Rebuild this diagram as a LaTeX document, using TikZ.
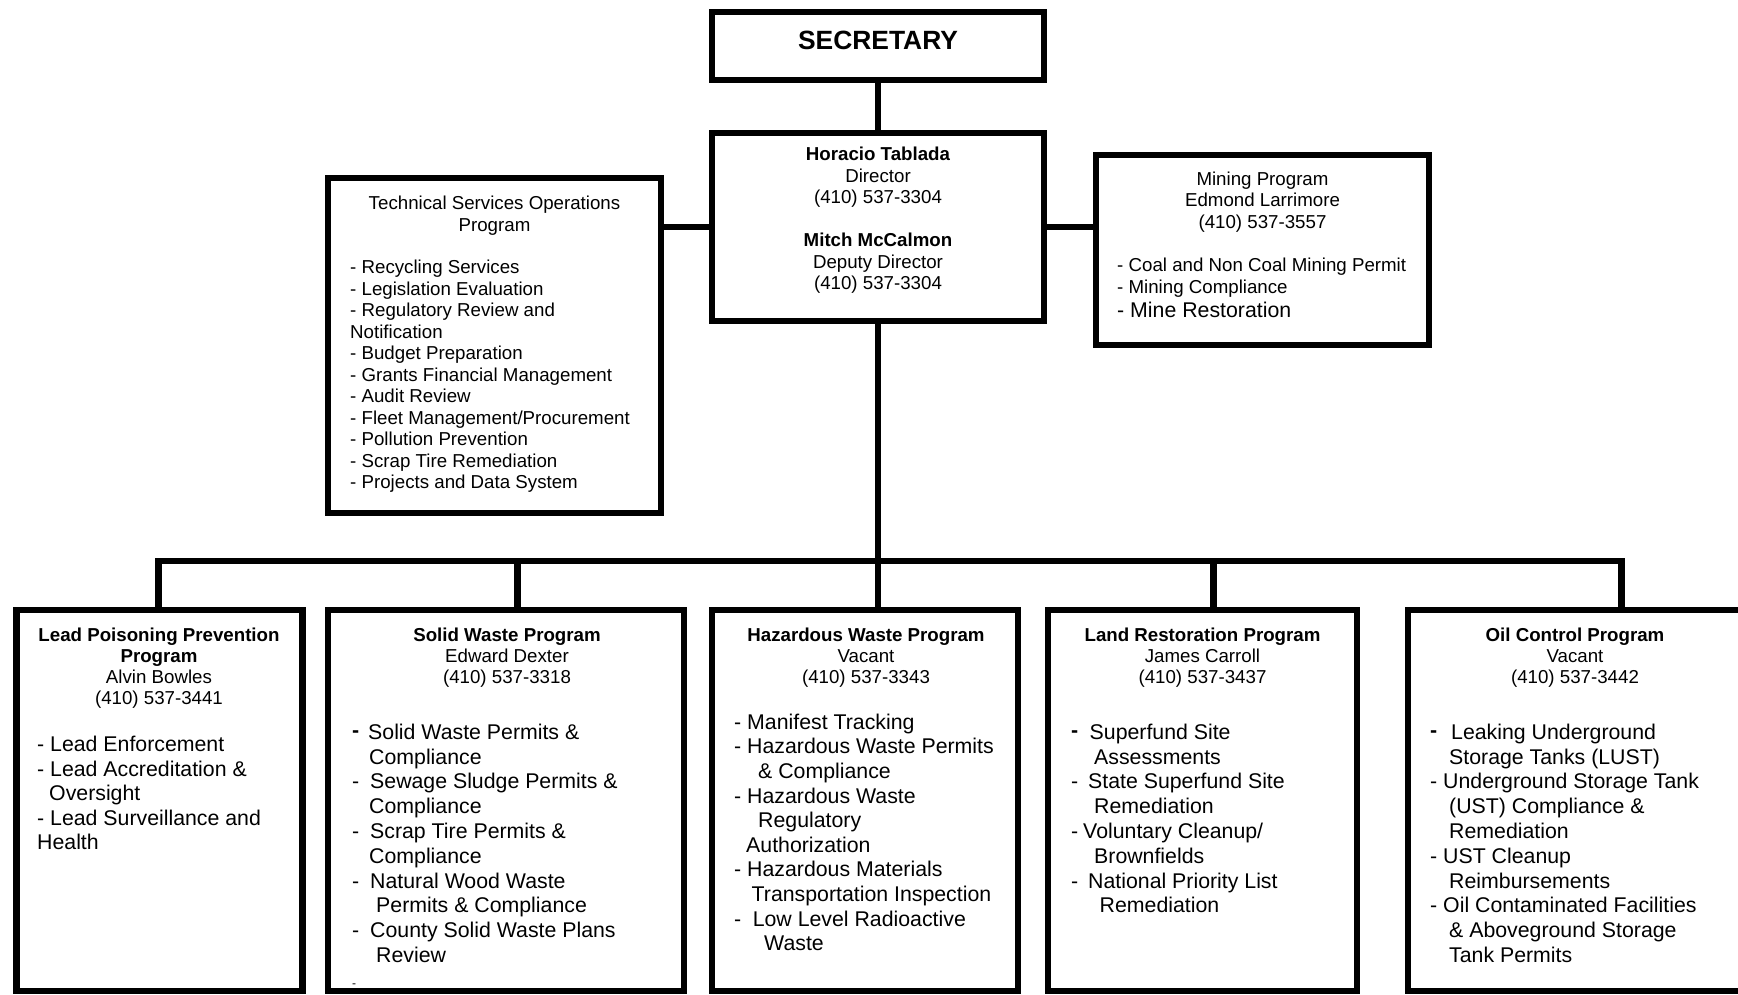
\documentclass[tikz,border=0pt]{standalone}
\usepackage{fontspec}
\setmainfont{Liberation Sans}
\newcommand\fsSmall{\fontsize{18.7}{21.5}\selectfont}
\newcommand\fsHead{\fontsize{18.7}{21}\selectfont}
\newcommand\fsBig[1]{\fontsize{21.3}{#1}\selectfont}
\newcommand\bdash{\raisebox{1.5pt}{\bfseries -}}
\newcommand\ind[1]{\hspace*{#1pt}}
\newcommand\dsh[1]{\makebox[#1pt][l]{-}}
\newcommand\bdsh[1]{\makebox[#1pt][l]{\bdash}}
\tikzset{
  box/.style={draw, line width=6.5pt, inner sep=0pt, fill=white},
  conn/.style={line width=6.5pt, line join=miter},
  txt/.style={inner sep=0pt, anchor=base west},
  ctxt/.style={inner sep=0pt, anchor=base},
}
\begin{document}
\begin{tikzpicture}[x=1pt,y=-1pt]
\useasboundingbox[fill=white] (0,0) rectangle (1738,995);

% boxes
\node[box, minimum width=332pt, minimum height=68pt]  (sec)    at (878,46) {};
\node[box, minimum width=332pt, minimum height=188pt] (dir)    at (878,227) {};
\node[box, minimum width=333pt, minimum height=335pt] (tech)   at (494.5,345.5) {};
\node[box, minimum width=333pt, minimum height=190pt] (mining) at (1262.5,250) {};
\node[box, minimum width=286pt, minimum height=381pt] (b1) at (159.5,800.5) {};
\node[box, minimum width=356pt, minimum height=381pt] (b2) at (506,800.5) {};
\node[box, minimum width=306pt, minimum height=381pt] (b3) at (865,800.5) {};
\node[box, minimum width=309pt, minimum height=381pt] (b4) at (1202.5,800.5) {};
\node[box, minimum width=337pt, minimum height=381pt] (b5) at (1576.5,800.5) {};

% connectors
\coordinate (bus) at (878,561);
\coordinate (d1) at (158.5,561);
\coordinate (d2) at (517.6,561);
\coordinate (d4) at (1213.7,561);
\coordinate (d5) at (1621.6,561);
\draw[conn] (sec.south) -- (dir.north);
\draw[conn] (dir.west) -- (dir.west -| tech.east);
\draw[conn] (dir.east) -- (dir.east -| mining.west);
\draw[conn] (dir.south) -- (bus) -- (bus |- b3.north);
\draw[conn] (d1 |- b1.north) -- (d1) -- (d5) -- (d5 |- b5.north);
\draw[conn] (d2) -- (d2 |- b2.north);
\draw[conn] (d4) -- (d4 |- b4.north);

% texts
\node[ctxt] (secT) at (878,49.5) {\fontsize{26.4}{30}\selectfont\bfseries SECRETARY};

\node[ctxt] (dirT) at (878,161) {\fsSmall\begin{tabular}[t]{@{}c@{}}
\textbf{Horacio Tablada}\\ Director\\ (410) 537-3304\\ \\
\textbf{Mitch McCalmon}\\ Deputy Director\\ (410) 537-3304\end{tabular}};

\node[ctxt] (techT) at (494.5,209.7) {\fsSmall\begin{tabular}[t]{@{}c@{}}
Technical Services Operations\\ Program\end{tabular}};
\node[txt] (techL) at (350,273.7) {\fsSmall\begin{tabular}[t]{@{}l@{}}
- Recycling Services\\
- Legislation Evaluation\\
- Regulatory Review and\\
Notification\\
- Budget Preparation\\
- Grants Financial Management\\
- Audit Review\\
- Fleet Management/Procurement\\
- Pollution Prevention\\
- Scrap Tire Remediation\\
- Projects and Data System\end{tabular}};

\node[ctxt] (minT) at (1262.5,185.2) {\fsSmall\begin{tabular}[t]{@{}c@{}}
Mining Program\\ Edmond Larrimore\\ (410) 537-3557\end{tabular}};
\node[txt] (minL) at (1117,271.7) {\fsSmall\begin{tabular}[t]{@{}l@{}}
- Coal and Non Coal Mining Permit\\
- Mining Compliance\\[2pt]
{\fsBig{24}- Mine Restoration}\end{tabular}};

% bottom headers
\node[ctxt] (h1) at (159,641.7) {\fsHead\begin{tabular}[t]{@{}c@{}}
\textbf{Lead Poisoning Prevention}\\ \textbf{Program}\\ Alvin Bowles\\ (410) 537-3441\end{tabular}};
\node[ctxt] (h2) at (507,641.7) {\fsHead\begin{tabular}[t]{@{}c@{}}
\textbf{Solid Waste Program}\\ Edward Dexter\\ (410) 537-3318\end{tabular}};
\node[ctxt] (h3) at (866,641.7) {\fsHead\begin{tabular}[t]{@{}c@{}}
\textbf{Hazardous Waste Program}\\ Vacant\\ (410) 537-3343\end{tabular}};
\node[ctxt] (h4) at (1202.5,641.7) {\fsHead\begin{tabular}[t]{@{}c@{}}
\textbf{Land Restoration Program}\\ James Carroll\\ (410) 537-3437\end{tabular}};
\node[ctxt] (h5) at (1575,641.7) {\fsHead\begin{tabular}[t]{@{}c@{}}
\textbf{Oil Control Program}\\ Vacant\\ (410) 537-3442\end{tabular}};

% bottom lists
\node[txt] (l1) at (37,751.7) {\fsBig{24.5}\begin{tabular}[t]{@{}l@{}}
- Lead Enforcement\\
- Lead Accreditation \&\\
\ind{12}Oversight\\
- Lead Surveillance and\\
Health\end{tabular}};

\node[txt] (l2) at (352,739.2) {\fsBig{24.8}\begin{tabular}[t]{@{}l@{}}
\bdsh{16}Solid Waste Permits \&\\
\ind{17}Compliance\\
\dsh{18}Sewage Sludge Permits \&\\
\ind{17}Compliance\\
\dsh{18}Scrap Tire Permits \&\\
\ind{17}Compliance\\
\dsh{18}Natural Wood Waste\\
\ind{24}Permits \& Compliance\\
\dsh{18}County Solid Waste Plans\\
\ind{24}Review\\
{\fontsize{12}{12}\selectfont -}\end{tabular}};

\node[txt] (l3) at (734,729.2) {\fsBig{24.6}\begin{tabular}[t]{@{}l@{}}
- Manifest Tracking\\
- Hazardous Waste Permits\\
\ind{24}\& Compliance\\
- Hazardous Waste\\
\ind{24}Regulatory\\
\ind{12}Authorization\\
- Hazardous Materials\\
\ind{17.5}Transportation Inspection\\
\dsh{18.6}Low Level Radioactive\\
\ind{30}Waste\end{tabular}};

\node[txt] (l4) at (1071,739.2) {\fsBig{24.8}\begin{tabular}[t]{@{}l@{}}
\bdsh{18.5}Superfund Site\\
\ind{23}Assessments\\
\dsh{17}State Superfund Site\\
\ind{23}Remediation\\
\dsh{12}Voluntary Cleanup/\\
\ind{23}Brownfields\\
\dsh{17}National Priority List\\
\ind{28.5}Remediation\end{tabular}};

\node[txt] (l5) at (1430,739.2) {\fsBig{24.8}\begin{tabular}[t]{@{}l@{}}
\bdsh{21}Leaking Underground\\
\ind{19}Storage Tanks (LUST)\\
- Underground Storage Tank\\
\ind{19}(UST) Compliance \&\\
\ind{19}Remediation\\
- UST Cleanup\\
\ind{19}Reimbursements\\
- Oil Contaminated Facilities\\
\ind{19}\& Aboveground Storage\\
\ind{19}Tank Permits\end{tabular}};
\end{tikzpicture}
\end{document}
